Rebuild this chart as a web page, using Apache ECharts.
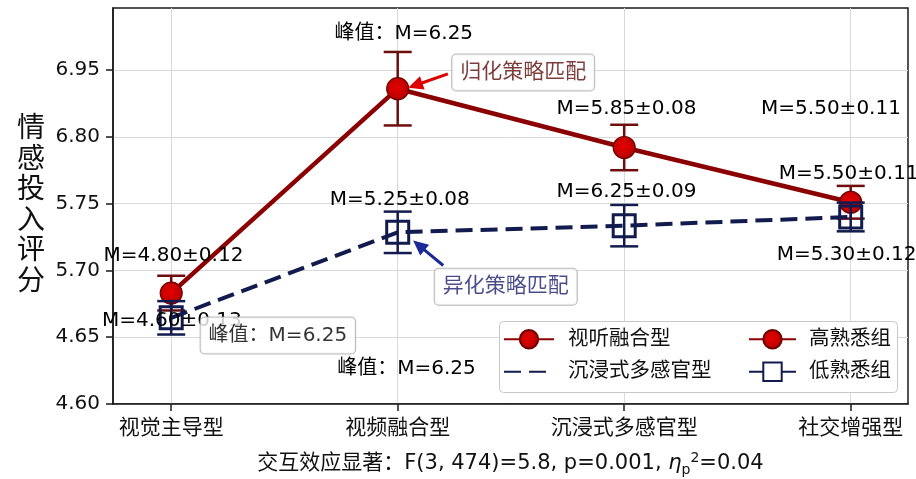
<!DOCTYPE html>
<html><head><meta charset="utf-8">
<script src="https://cdn.jsdelivr.net/npm/echarts@6/dist/echarts.min.js"></script>
<style>html,body{margin:0;padding:0;background:#fff}#c{width:916px;height:479px}</style>
</head><body><div id="c"></div>
<script>
// ---------- data ----------
const categories = ['视觉主导型', '视频融合型', '沉浸式多感官型', '社交增强型'];
const yTickLabels = ['4.60', '4.65', '5.70', '5.75', '6.80', '6.95'];
// values expressed in axis-tick units (tick i carries label yTickLabels[i])
const highMeans = [1.66, 4.72, 3.84, 3.02];
const highErr = [0.26, 0.55, 0.34, 0.245];
const lowMeans = [1.29, 2.57, 2.67, 2.80];
const lowErr = [0.25, 0.31, 0.31, 0.215];
const plainNoteTexts = ['峰值：M=6.25', 'M=4.80±0.12', 'M=4.60±0.13', 'M=5.25±0.08', '峰值：M=6.25',
  'M=5.85±0.08', 'M=6.25±0.09', 'M=5.50±0.11', 'M=5.50±0.11', 'M=5.30±0.12'];
const boxNoteTexts = ['峰值：M=6.25', '归化策略匹配', '异化策略匹配'];
const xAxisTitle = '交互效应显著：F(3, 474)=5.8, p=0.001, ';
const yAxisTitle = '情感投入评分';

// ---------- layout (annotation anchors in axis units) ----------
const plainNoteAt = [[1.027, 5.54], [0.010, 2.22], [0.003, 1.25], [1.009, 3.05], [1.039, 0.52],
  [2.010, 4.42], [2.010, 3.17], [2.913, 4.42], [2.991, 3.45], [2.982, 2.23]];
const boxNoteAt = [[0.471, 1.025], [1.554, 4.963], [1.477, 1.754]];
const arrowAt = [[1.2216, 4.943, 1.046, 4.734], [1.201, 2.073, 1.068, 2.447]];

// ---------- styles ----------
const FONT = "'DejaVu Sans','Noto Sans CJK SC',sans-serif";
const RED_LINE = '#8b0000', RED_ERR = '#6e0d0d', NAVY = '#121b4e';
const boxNoteColors = ['#000', '#5c0b0b', '#1b1f6b'];
const boxNoteSizes = [20, 21, 21];
const arrowColors = ['#dd0000', '#1c2a96'];
const redMarker = {
  color: {type: 'radial', x: 0.45, y: 0.45, r: 0.6, colorStops: [{offset: 0, color: '#e60000'}, {offset: 1, color: '#b00000'}]},
  borderColor: '#6e0000', borderWidth: 1.2
};

function errRender(color) {
  return function (params, api) {
    const x = api.value(0), m = api.value(1), e = api.value(2);
    const t = api.coord([x, m + e]), b = api.coord([x, m - e]);
    const w = 14, st = {stroke: color, lineWidth: 2.5};
    return {type: 'group', children: [
      {type: 'line', shape: {x1: t[0], y1: t[1], x2: b[0], y2: b[1]}, style: st},
      {type: 'line', shape: {x1: t[0] - w, y1: t[1], x2: t[0] + w, y2: t[1]}, style: st},
      {type: 'line', shape: {x1: b[0] - w, y1: b[1], x2: b[0] + w, y2: b[1]}, style: st}
    ]};
  };
}
function arrowRender(params, api) {
  const p1 = api.coord([api.value(0), api.value(1)]);
  const p2 = api.coord([api.value(2), api.value(3)]);
  const color = arrowColors[params.dataIndex];
  const dx = p2[0] - p1[0], dy = p2[1] - p1[1], L = Math.hypot(dx, dy);
  const ux = dx / L, uy = dy / L, hl = 15, hw = 7;
  const bx = p2[0] - ux * hl, by = p2[1] - uy * hl;
  return {type: 'group', children: [
    {type: 'line', shape: {x1: p1[0], y1: p1[1], x2: bx + ux * 2, y2: by + uy * 2}, style: {stroke: color, lineWidth: 3}},
    {type: 'polygon', shape: {points: [[p2[0], p2[1]], [bx - uy * hw, by + ux * hw], [bx + uy * hw, by - ux * hw]]}, style: {fill: color}}
  ]};
}

const idx = categories.map((_, i) => i);
const chart = echarts.init(document.getElementById('c'), null, {renderer: 'canvas'});
const option = {
  animation: false,
  backgroundColor: '#fff',
  textStyle: {fontFamily: FONT},
  grid: {left: 113, right: 8, top: 8, bottom: 75, show: true, borderColor: '#1a1a1a', borderWidth: 1.5, backgroundColor: '#fff',
    containLabel: false, outerBoundsMode: 'none'},
  xAxis: {
    type: 'value', min: -0.257, max: 3.253,
    axisLine: {onZero: false, lineStyle: {color: '#1a1a1a', width: 1.5}},
    axisTick: {show: true, length: 7, customValues: idx, lineStyle: {color: '#1a1a1a', width: 1.5}},
    axisLabel: {customValues: idx, formatter: v => categories[Math.round(v)], fontSize: 21, color: '#111', margin: 14, fontFamily: FONT},
    splitLine: {show: true, lineStyle: {color: '#d9d9d9', width: 1}},
    name: '{n|' + xAxisTitle + '}{e|η}{s|p}{u|2}{n|=0.04}',
    nameLocation: 'middle', nameGap: 47,
    nameTextStyle: {
      rich: {
        n: {fontSize: 21, lineHeight: 26, color: '#111', fontFamily: FONT},
        e: {fontSize: 21, lineHeight: 26, color: '#111', fontStyle: 'italic', fontFamily: FONT},
        s: {fontSize: 14, lineHeight: 14, verticalAlign: 'bottom', color: '#111', fontFamily: FONT},
        u: {fontSize: 14, lineHeight: 14, verticalAlign: 'top', color: '#111', fontFamily: FONT}
      }
    }
  },
  yAxis: {
    type: 'value', min: 0, max: 396 / 66.8,
    axisLine: {show: true, onZero: false, lineStyle: {color: '#1a1a1a', width: 1.5}},
    axisTick: {show: true, length: 7, customValues: yTickLabels.map((_, i) => i), lineStyle: {color: '#1a1a1a', width: 1.5}},
    axisLabel: {customValues: yTickLabels.map((_, i) => i), formatter: v => yTickLabels[Math.round(v)], fontSize: 20, color: '#111', margin: 13, fontFamily: FONT},
    splitLine: {show: true, lineStyle: {color: '#d9d9d9', width: 1}},
    name: yAxisTitle.split('').join('\n'),
    nameLocation: 'middle', nameRotate: 0, nameGap: 68,
    nameTextStyle: {fontSize: 28, lineHeight: 30.5, color: '#111', fontFamily: FONT, padding: [10, 0, 0, 0]}
  },
  legend: [
    {
      data: ['视听融合型', {name: '沉浸式多感官型', itemStyle: {opacity: 0}}],
      orient: 'vertical', left: 503, top: 329, padding: 0, itemGap: 12,
      itemWidth: 50, itemHeight: 23, selectedMode: false, z: 10,
      textStyle: {fontSize: 20.5, color: '#111', fontFamily: FONT, padding: [0, 0, 0, 9]}
    },
    {
      data: ['高熟悉组', '低熟悉组'],
      orient: 'vertical', left: 748, top: 329, padding: 0, itemGap: 12,
      itemWidth: 47, itemHeight: 23, selectedMode: false, z: 10,
      textStyle: {fontSize: 20.5, color: '#111', fontFamily: FONT, padding: [0, 0, 0, 8]}
    }
  ],
  graphic: [{
    type: 'rect', z: 9, silent: true,
    shape: {x: 499.5, y: 321.5, width: 398, height: 71, r: 4},
    style: {fill: '#fff', stroke: '#c8c8c8', lineWidth: 1}
  }],
  series: [
    {type: 'custom', name: 'errHigh', z: 2, renderItem: errRender(RED_ERR), silent: true,
      data: idx.map(i => [i, highMeans[i], highErr[i]])},
    {type: 'line', name: '视听融合型', z: 3, data: idx.map(i => [i, highMeans[i]]),
      symbol: 'circle', symbolSize: 22, lineStyle: {color: RED_LINE, width: 4.5}, itemStyle: redMarker},
    {type: 'line', name: '高熟悉组', z: 3, data: [],
      symbol: 'circle', symbolSize: 22, lineStyle: {color: RED_LINE, width: 4.5}, itemStyle: redMarker},
    {type: 'custom', name: 'errLow', z: 4, renderItem: errRender(NAVY), silent: true,
      data: idx.map(i => [i, lowMeans[i], lowErr[i]])},
    {type: 'line', name: '沉浸式多感官型', z: 4, data: idx.map(i => [i, lowMeans[i]]),
      symbol: 'none', lineStyle: {color: NAVY, width: 4, type: [17, 8]}, itemStyle: {color: NAVY}},
    {type: 'scatter', name: 'lowMarkers', z: 5, data: idx.map(i => [i, lowMeans[i]]), silent: true,
      symbol: 'rect', symbolSize: 22, itemStyle: {color: 'rgba(0,0,0,0)', borderColor: NAVY, borderWidth: 3, opacity: 1}},
    {type: 'line', name: '低熟悉组', z: 5, data: [],
      symbol: 'rect', symbolSize: 22, lineStyle: {color: NAVY, width: 3.5}, itemStyle: {color: '#fff', borderColor: NAVY, borderWidth: 3}},
    {type: 'custom', name: 'arrows', z: 6, renderItem: arrowRender, silent: true, data: arrowAt},
    {type: 'scatter', name: 'plainNotes', z: 7, silent: true, symbolSize: 1, itemStyle: {color: 'rgba(0,0,0,0)'},
      data: plainNoteTexts.map((t, i) => ({value: plainNoteAt[i], name: t})),
      label: {show: true, position: 'inside', formatter: p => p.name, fontSize: 20, color: '#000', opacity: 1, fontFamily: FONT}},
    {type: 'scatter', name: 'boxNotes', z: 8, silent: true, symbolSize: 1, itemStyle: {color: 'rgba(0,0,0,0)'},
      data: boxNoteTexts.map((t, i) => ({value: boxNoteAt[i], name: t,
        label: {color: boxNoteColors[i], fontSize: boxNoteSizes[i]}})),
      label: {show: true, position: 'inside', formatter: p => p.name, fontFamily: FONT, lineHeight: 22,
        backgroundColor: '#fff', borderColor: '#a8a8a8', borderWidth: 1, borderRadius: 4, padding: [7, 8, 7, 8]}}
  ]
};
chart.setOption(option);
</script>
</body></html>
